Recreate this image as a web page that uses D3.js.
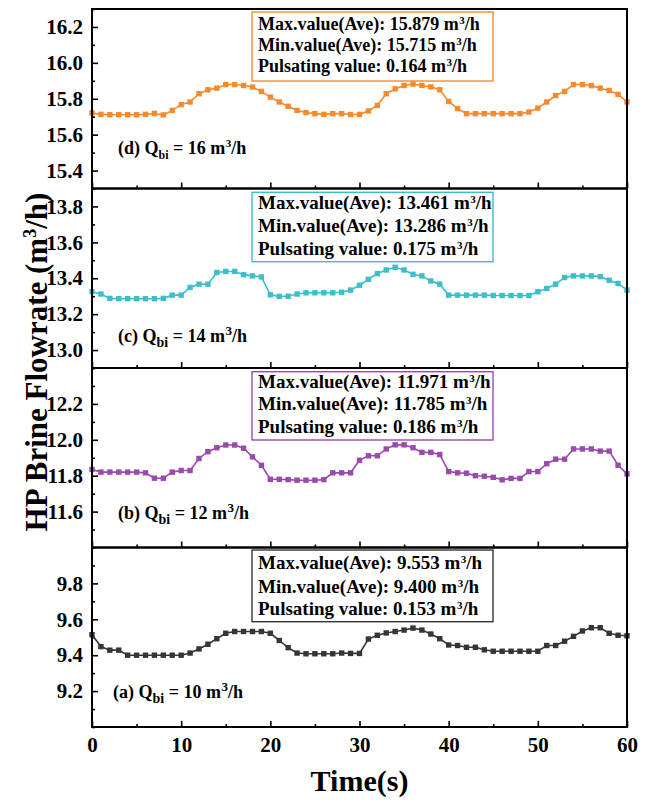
<!DOCTYPE html>
<html>
<head>
<meta charset="utf-8">
<script src="https://cdn.jsdelivr.net/npm/d3@7"></script>
<style>
  body { margin: 0; background: #fff; }
  text { font-family: "Liberation Serif", "Times New Roman", serif; font-weight: bold; fill: #000; }
</style>
</head>
<body>
<div id="chart"></div>
<script>

// time axis (s)
var time = [0, 1, 2, 3, 4, 5, 6, 7, 8, 9, 10, 11, 12, 13, 14, 15, 16, 17, 18, 19, 20,
  21, 22, 23, 24, 25, 26, 27, 28, 29, 30, 31, 32, 33, 34, 35, 36, 37, 38, 39, 40,
  41, 42, 43, 44, 45, 46, 47, 48, 49, 50, 51, 52, 53, 54, 55, 56, 57, 58, 59, 60];

// (d) Qbi = 16
var flow16 = [15.721, 15.713, 15.711, 15.711, 15.711, 15.711, 15.713, 15.718, 15.710, 15.735,
  15.767, 15.782, 15.828, 15.850, 15.859, 15.879, 15.879, 15.874, 15.865, 15.841,
  15.809, 15.782, 15.758, 15.735, 15.723, 15.717, 15.713, 15.717, 15.717, 15.712,
  15.713, 15.732, 15.763, 15.828, 15.855, 15.874, 15.882, 15.874, 15.866, 15.850,
  15.785, 15.745, 15.717, 15.717, 15.717, 15.717, 15.717, 15.717, 15.717, 15.726,
  15.748, 15.782, 15.818, 15.841, 15.879, 15.879, 15.873, 15.859, 15.846, 15.824, 15.782];

// (c) Qbi = 14
var flow14 = [13.325, 13.312, 13.288, 13.286, 13.286, 13.286, 13.286, 13.286, 13.288, 13.306,
  13.306, 13.349, 13.367, 13.367, 13.432, 13.438, 13.438, 13.420, 13.413, 13.407,
  13.308, 13.299, 13.300, 13.312, 13.319, 13.319, 13.319, 13.319, 13.322, 13.334,
  13.361, 13.394, 13.426, 13.446, 13.461, 13.446, 13.422, 13.413, 13.385, 13.367,
  13.306, 13.306, 13.306, 13.306, 13.306, 13.304, 13.304, 13.304, 13.304, 13.304,
  13.325, 13.343, 13.367, 13.404, 13.413, 13.413, 13.413, 13.409, 13.389, 13.371, 13.334];

// (b) Qbi = 12
var flow12 = [11.835, 11.820, 11.820, 11.820, 11.820, 11.820, 11.816, 11.786, 11.786, 11.820,
  11.829, 11.829, 11.896, 11.934, 11.956, 11.971, 11.971, 11.953, 11.905, 11.858,
  11.780, 11.780, 11.778, 11.775, 11.775, 11.775, 11.778, 11.816, 11.816, 11.816,
  11.886, 11.911, 11.911, 11.949, 11.972, 11.972, 11.956, 11.930, 11.930, 11.918,
  11.823, 11.816, 11.814, 11.800, 11.797, 11.791, 11.777, 11.785, 11.785, 11.823,
  11.823, 11.867, 11.892, 11.892, 11.949, 11.949, 11.949, 11.937, 11.937, 11.858, 11.810];

// (a) Qbi = 10
var flow10 = [9.514, 9.448, 9.428, 9.428, 9.400, 9.400, 9.400, 9.400, 9.400, 9.400,
  9.400, 9.412, 9.435, 9.461, 9.492, 9.522, 9.532, 9.532, 9.532, 9.532,
  9.522, 9.482, 9.442, 9.412, 9.408, 9.408, 9.408, 9.408, 9.412, 9.410,
  9.410, 9.490, 9.511, 9.524, 9.532, 9.540, 9.551, 9.540, 9.518, 9.492,
  9.457, 9.454, 9.444, 9.444, 9.430, 9.422, 9.422, 9.422, 9.422, 9.422,
  9.422, 9.454, 9.454, 9.478, 9.505, 9.535, 9.553, 9.553, 9.522, 9.511, 9.508];

var panelLetters = ["(d)", "(c)", "(b)", "(a)"];
var qbiValues = [16, 14, 12, 10];
var maxAve = ["15.879", "13.461", "11.971", "9.553"];
var minAve = ["15.715", "13.286", "11.785", "9.400"];
var pulsating = ["0.164", "0.175", "0.186", "0.153"];
var yDomains = [[15.3, 16.3], [12.9, 13.9], [11.4, 12.4], [9.0, 10.0]];
var yMajor = [[15.4, 15.6, 15.8, 16.0, 16.2], [13.0, 13.2, 13.4, 13.6, 13.8],
  [11.6, 11.8, 12.0, 12.2], [9.2, 9.4, 9.6, 9.8]];
var xMajor = [0, 10, 20, 30, 40, 50, 60];
var xMinor = [5, 15, 25, 35, 45, 55];
var series = [flow16, flow14, flow12, flow10];
var colors = ["#F58B2E", "#3DBFCB", "#9A4AAE", "#353535"];

var svgWidth = 649;
var svgHeight = 800;
var left = 92, right = 627, top0 = 9, panelH = 179.5;

// per panel placement of the info box and the label
var boxTop = [3, 3.8, 3.7, 2.5];
var boxH = [69, 69.4, 68.3, 71.7];
var boxFont = [18, 19, 19, 19];
var lineY = [[20.5, 41.5, 62.5], [20.8, 43.2, 66.5], [20.3, 42, 64.7], [21.8, 45.2, 67.5]];
var labelX = [118, 118, 118, 113];
var labelY = [145, 153.5, 151, 150.5];

var svg = d3.select("#chart")
  .append("svg")
  .attr("width", svgWidth)
  .attr("height", svgHeight);

var xScale = d3.scaleLinear()
  .domain([0, 60])
  .range([left, right]);

// small helper: "m3/h" with a raised 3
function unitText(sel, before, small, lift) {
  sel.append("tspan").text(before + "m");
  sel.append("tspan").attr("dx", 0.5).attr("dy", -lift).style("font-size", small + "px").text("3");
  sel.append("tspan").attr("dy", lift).text("/h");
}

series.forEach(function(vals, i) {
  var pTop = top0 + i * panelH;
  var pBottom = pTop + panelH;
  var g = svg.append("g");

  var yScale = d3.scaleLinear()
    .domain(yDomains[i])
    .range([pBottom, pTop]);

  var minorY = yScale.ticks(10).filter(function(v) {
    return !yMajor[i].some(function(m) { return Math.abs(m - v) < 1e-6; });
  });

  // y axis, ticks point inward
  var yAx = g.append("g")
    .attr("transform", "translate(" + left + ",0)")
    .call(d3.axisLeft(yScale).tickValues(yMajor[i]).tickSize(-6).tickPadding(9).tickFormat(d3.format(".1f")));
  yAx.select(".domain").remove();
  yAx.selectAll("line").attr("stroke-width", 1.6);
  yAx.selectAll("text").style("font-size", "21px").attr("font-family", null);

  var yMin = g.append("g")
    .attr("transform", "translate(" + left + ",0)")
    .call(d3.axisLeft(yScale).tickValues(minorY).tickSize(-3).tickFormat(""));
  yMin.select(".domain").remove();
  yMin.selectAll("line").attr("stroke-width", 1.6);

  // x axis at the bottom of every panel, labels only on the last one
  var xAx = g.append("g")
    .attr("transform", "translate(0," + pBottom + ")")
    .call(d3.axisBottom(xScale).tickValues(xMajor).tickSize(-6).tickPadding(10)
      .tickFormat(i === 3 ? d3.format("d") : ""));
  xAx.select(".domain").remove();
  xAx.selectAll("line").attr("stroke-width", 1.6);
  xAx.selectAll("text").style("font-size", "21px").attr("font-family", null);

  var xMin = g.append("g")
    .attr("transform", "translate(0," + pBottom + ")")
    .call(d3.axisBottom(xScale).tickValues(xMinor).tickSize(-3).tickFormat(""));
  xMin.select(".domain").remove();
  xMin.selectAll("line").attr("stroke-width", 1.6);

  // line + square markers
  var line = d3.line()
    .x(function(d, k) { return xScale(time[k]); })
    .y(function(d) { return yScale(d); });

  g.append("path")
    .datum(vals)
    .attr("d", line)
    .attr("fill", "none")
    .attr("stroke", colors[i])
    .attr("stroke-width", 1.6);

  g.selectAll("rect.pt")
    .data(vals)
    .enter()
    .append("rect")
    .attr("class", "pt")
    .attr("x", function(d, k) { return xScale(time[k]) - 2.7; })
    .attr("y", function(d) { return yScale(d) - 2.7; })
    .attr("width", 5.4)
    .attr("height", 5.4)
    .attr("fill", colors[i]);

  // info box
  g.append("rect")
    .attr("x", 252)
    .attr("y", pTop + boxTop[i])
    .attr("width", 241)
    .attr("height", boxH[i])
    .attr("fill", "#fff")
    .attr("stroke", colors[i])
    .attr("stroke-width", 1.4);

  var lines = [
    "Max.value(Ave): " + maxAve[i] + " ",
    "Min.value(Ave): " + minAve[i] + " ",
    "Pulsating value: " + pulsating[i] + " "
  ];
  lines.forEach(function(l, k) {
    var t = g.append("text")
      .attr("x", 258)
      .attr("y", pTop + lineY[i][k])
      .style("font-size", boxFont[i] + "px");
    unitText(t, l, 11, 6);
  });

  // panel label
  var lab = g.append("text")
    .attr("x", labelX[i])
    .attr("y", pTop + labelY[i])
    .style("font-size", "18px");
  lab.append("tspan").text(panelLetters[i] + " Q");
  lab.append("tspan").attr("dy", 5).style("font-size", i === 0 ? "12px" : "14px").text("bi");
  lab.append("tspan").attr("dy", -5).text(" = " + qbiValues[i] + " ");
  unitText(lab, "", i === 0 ? 11 : 13, 7);

  // frame
  g.append("rect")
    .attr("x", left)
    .attr("y", pTop)
    .attr("width", right - left)
    .attr("height", panelH)
    .attr("fill", "none")
    .attr("stroke", "#000")
    .attr("stroke-width", 2);
});

// axis titles
var yTitle = svg.append("text")
  .attr("transform", "translate(47,362) rotate(-90)")
  .attr("text-anchor", "middle")
  .style("font-size", "31px");
yTitle.append("tspan").text("HP Brine Flowrate (m");
yTitle.append("tspan").attr("dy", -11).style("font-size", "18px").text("3");
yTitle.append("tspan").attr("dy", 11).text("/h)");

svg.append("text")
  .attr("x", (left + right) / 2)
  .attr("y", 791)
  .attr("text-anchor", "middle")
  .style("font-size", "30px")
  .text("Time(s)");

</script>
</body>
</html>
